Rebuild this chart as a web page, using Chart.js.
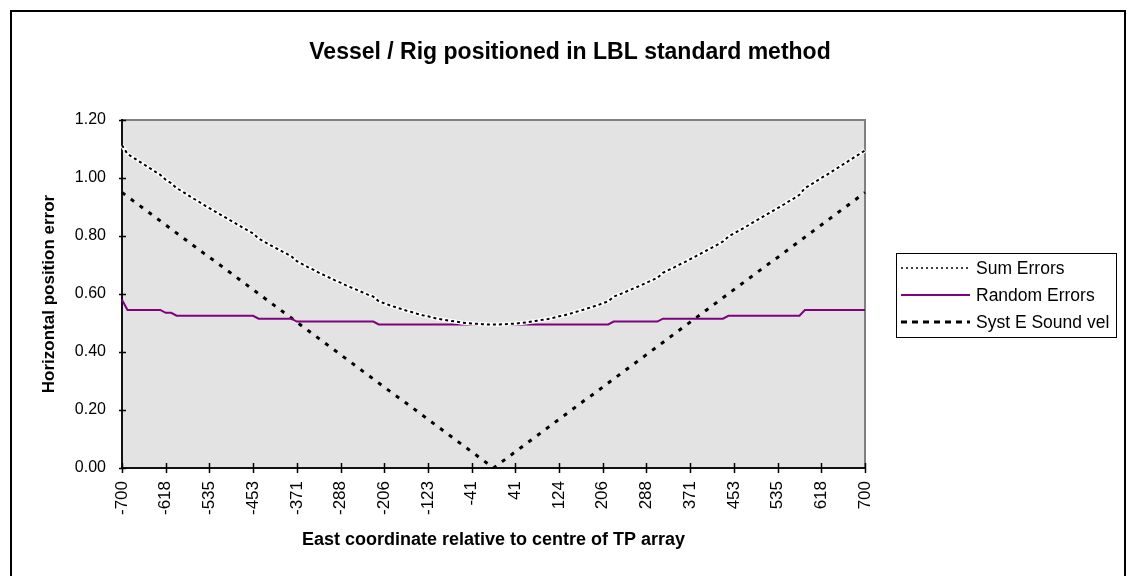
<!DOCTYPE html>
<html>
<head>
<meta charset="utf-8">
<script src="https://cdn.jsdelivr.net/npm/chart.js@4.4.1/dist/chart.umd.min.js"></script>
<style>
  html, body { margin: 0; padding: 0; background: #ffffff; }
  canvas { display: block; }
</style>
</head>
<body>
<canvas id="lbl_chart" width="1129" height="576"></canvas>
<script>
const chartTitle = "Vessel / Rig positioned in LBL standard method";

// east coordinate labels shown under the axis (one every 8 points)
const tickLabels = ["-700", "-618", "-535", "-453", "-371", "-288", "-206", "-123", "-41",
                    "41", "124", "206", "288", "371", "453", "535", "618", "700"];
const pointsPerLabel = 8;

const sumErrors = [
  1.113, 1.083, 1.071, 1.059, 1.047, 1.035, 1.023, 1.011, 0.994, 0.982,
  0.965, 0.954, 0.942, 0.930, 0.919, 0.907, 0.896, 0.885, 0.874, 0.863,
  0.852, 0.841, 0.830, 0.819, 0.809, 0.791, 0.781, 0.770, 0.760, 0.750,
  0.740, 0.730, 0.713, 0.703, 0.693, 0.684, 0.674, 0.665, 0.656, 0.647,
  0.639, 0.630, 0.622, 0.614, 0.606, 0.598, 0.591, 0.575, 0.568, 0.561,
  0.555, 0.549, 0.543, 0.538, 0.532, 0.527, 0.523, 0.518, 0.514, 0.511,
  0.508, 0.505, 0.502, 0.500, 0.498, 0.497, 0.496, 0.495, 0.495, 0.495,
  0.496, 0.497, 0.498, 0.500, 0.502, 0.505, 0.508, 0.511, 0.514, 0.518,
  0.523, 0.527, 0.532, 0.538, 0.543, 0.549, 0.555, 0.561, 0.568, 0.575,
  0.591, 0.598, 0.606, 0.614, 0.622, 0.630, 0.639, 0.647, 0.656, 0.673,
  0.682, 0.691, 0.701, 0.710, 0.720, 0.730, 0.740, 0.750, 0.760, 0.770,
  0.781, 0.798, 0.809, 0.819, 0.830, 0.841, 0.852, 0.863, 0.874, 0.885,
  0.896, 0.907, 0.919, 0.930, 0.942, 0.965, 0.976, 0.988, 1.000, 1.011,
  1.023, 1.035, 1.047, 1.059, 1.071, 1.083, 1.095
];

const randomErrors = [
  0.58, 0.545, 0.545, 0.545, 0.545, 0.545, 0.545, 0.545, 0.535, 0.535,
  0.525, 0.525, 0.525, 0.525, 0.525, 0.525, 0.525, 0.525, 0.525, 0.525,
  0.525, 0.525, 0.525, 0.525, 0.525, 0.515, 0.515, 0.515, 0.515, 0.515,
  0.515, 0.515, 0.505, 0.505, 0.505, 0.505, 0.505, 0.505, 0.505, 0.505,
  0.505, 0.505, 0.505, 0.505, 0.505, 0.505, 0.505, 0.495, 0.495, 0.495,
  0.495, 0.495, 0.495, 0.495, 0.495, 0.495, 0.495, 0.495, 0.495, 0.495,
  0.495, 0.495, 0.495, 0.495, 0.495, 0.495, 0.495, 0.495, 0.495, 0.495,
  0.495, 0.495, 0.495, 0.495, 0.495, 0.495, 0.495, 0.495, 0.495, 0.495,
  0.495, 0.495, 0.495, 0.495, 0.495, 0.495, 0.495, 0.495, 0.495, 0.495,
  0.505, 0.505, 0.505, 0.505, 0.505, 0.505, 0.505, 0.505, 0.505, 0.515,
  0.515, 0.515, 0.515, 0.515, 0.515, 0.515, 0.515, 0.515, 0.515, 0.515,
  0.515, 0.525, 0.525, 0.525, 0.525, 0.525, 0.525, 0.525, 0.525, 0.525,
  0.525, 0.525, 0.525, 0.525, 0.525, 0.545, 0.545, 0.545, 0.545, 0.545,
  0.545, 0.545, 0.545, 0.545, 0.545, 0.545, 0.545
];

const systSoundVel = [
  0.950, 0.936, 0.922, 0.908, 0.894, 0.880, 0.866, 0.852, 0.838, 0.824,
  0.810, 0.796, 0.782, 0.768, 0.754, 0.740, 0.726, 0.713, 0.699, 0.685,
  0.671, 0.657, 0.643, 0.629, 0.615, 0.601, 0.587, 0.573, 0.559, 0.545,
  0.531, 0.517, 0.503, 0.489, 0.475, 0.461, 0.447, 0.433, 0.419, 0.405,
  0.391, 0.377, 0.363, 0.349, 0.335, 0.321, 0.307, 0.293, 0.279, 0.265,
  0.251, 0.238, 0.224, 0.210, 0.196, 0.182, 0.168, 0.154, 0.140, 0.126,
  0.112, 0.098, 0.084, 0.070, 0.056, 0.042, 0.028, 0.014, 0.000, 0.014,
  0.028, 0.042, 0.056, 0.070, 0.084, 0.098, 0.112, 0.126, 0.140, 0.154,
  0.168, 0.182, 0.196, 0.210, 0.224, 0.238, 0.251, 0.265, 0.279, 0.293,
  0.307, 0.321, 0.335, 0.349, 0.363, 0.377, 0.391, 0.405, 0.419, 0.433,
  0.447, 0.461, 0.475, 0.489, 0.503, 0.517, 0.531, 0.545, 0.559, 0.573,
  0.587, 0.601, 0.615, 0.629, 0.643, 0.657, 0.671, 0.685, 0.699, 0.713,
  0.726, 0.740, 0.754, 0.768, 0.782, 0.796, 0.810, 0.824, 0.838, 0.852,
  0.866, 0.880, 0.894, 0.908, 0.922, 0.936, 0.950
];

// category labels: a tick label every 8th point, blanks in between
const labels = sumErrors.map((v, i) =>
    i % pointsPerLabel === 0 ? tickLabels[i / pointsPerLabel] : "");

const FONT = '"Liberation Sans", Arial, sans-serif';
Chart.defaults.font.family = FONT;
Chart.defaults.color = "#000000";

// Excel-like decorations: frame, grey plot area, crossing ticks, title, boxed legend
const excelLook = {
    id: "excelLook",
    beforeDraw(chart) {
        const { ctx, chartArea: a } = chart;
        ctx.save();
        ctx.strokeStyle = "#000000";
        ctx.lineWidth = 2;
        ctx.strokeRect(11, 11, 1114, 620);

        ctx.fillStyle = "#e3e3e3";
        ctx.fillRect(a.left, a.top, a.right - a.left, a.bottom - a.top);
        ctx.strokeStyle = "#808080";
        ctx.lineWidth = 2;
        ctx.beginPath();
        ctx.moveTo(a.left, a.top);
        ctx.lineTo(a.right, a.top);
        ctx.lineTo(a.right, a.bottom);
        ctx.stroke();

        ctx.fillStyle = "#000000";
        ctx.font = "bold 23px " + FONT;
        ctx.textAlign = "center";
        ctx.textBaseline = "middle";
        ctx.fillText(chartTitle, 570, 53);
        ctx.restore();
    },
    beforeDatasetDraw(chart, args) {
        // white band under the dotted "Sum Errors" line
        if (args.index !== 0) return;
        const pts = chart.getDatasetMeta(0).data;
        const ctx = chart.ctx;
        ctx.save();
        ctx.strokeStyle = "#ffffff";
        ctx.lineWidth = 4;
        ctx.lineJoin = "round";
        ctx.beginPath();
        pts.forEach((p, i) => i === 0 ? ctx.moveTo(p.x, p.y) : ctx.lineTo(p.x, p.y));
        ctx.stroke();
        ctx.restore();
    },
    afterDraw(chart) {
        const { ctx, chartArea: a, scales } = chart;
        ctx.save();
        ctx.strokeStyle = "#000000";
        ctx.lineWidth = 1.5;
        ctx.beginPath();
        scales.y.ticks.forEach((t, i) => {
            const y = Math.round(scales.y.getPixelForTick(i)) + 0.5;
            ctx.moveTo(a.left - 3, y);
            ctx.lineTo(a.left + 4, y);
        });
        for (let i = 0; i < labels.length; i += pointsPerLabel) {
            const x = Math.round(scales.x.getPixelForValue(i)) + 0.5;
            ctx.moveTo(x, a.bottom - 5);
            ctx.lineTo(x, a.bottom + 5);
        }
        ctx.stroke();

        // legend box
        const lx = 896, ly = 253, lw = 220, lh = 84;
        ctx.fillStyle = "#ffffff";
        ctx.fillRect(lx, ly, lw, lh);
        ctx.strokeStyle = "#000000";
        ctx.lineWidth = 1;
        ctx.strokeRect(lx + 0.5, ly + 0.5, lw, lh);
        ctx.font = "17.5px " + FONT;
        ctx.textAlign = "left";
        ctx.textBaseline = "middle";
        chart.data.datasets.forEach((ds, i) => {
            const y = ly + 15 + i * 27;
            ctx.strokeStyle = ds.borderColor;
            ctx.lineWidth = ds.legendWidth;
            ctx.setLineDash(ds.legendDash);
            ctx.beginPath();
            ctx.moveTo(lx + 5, y);
            ctx.lineTo(lx + 74, y);
            ctx.stroke();
            ctx.setLineDash([]);
            ctx.fillStyle = "#000000";
            ctx.fillText(ds.label, lx + 80, y + 1);
        });
        ctx.restore();
    }
};

new Chart(document.getElementById("lbl_chart"), {
    type: "line",
    data: {
        labels: labels,
        datasets: [
            {
                label: "Sum Errors",
                data: sumErrors,
                borderColor: "#000000",
                borderWidth: 2,
                borderDash: [3, 3],
                legendWidth: 1.5,
                legendDash: [2, 3],
                pointRadius: 0,
                tension: 0
            },
            {
                label: "Random Errors",
                data: randomErrors,
                borderColor: "#800080",
                borderWidth: 2,
                borderDash: [],
                legendWidth: 2,
                legendDash: [],
                pointRadius: 0,
                tension: 0
            },
            {
                label: "Syst E Sound vel",
                data: systSoundVel,
                borderColor: "#000000",
                borderWidth: 3,
                borderDash: [4, 7],
                legendWidth: 3,
                legendDash: [6, 5],
                pointRadius: 0,
                tension: 0
            }
        ]
    },
    options: {
        responsive: false,
        animation: false,
        layout: { padding: { left: 10, top: 120, right: 264, bottom: 0 } },
        plugins: {
            legend: { display: false },
            title: { display: false },
            tooltip: { enabled: false }
        },
        scales: {
            x: {
                type: "category",
                offset: false,
                grid: { display: false, drawTicks: false },
                border: { display: true, color: "#111111", width: 2 },
                ticks: {
                    autoSkip: false,
                    maxRotation: 90,
                    minRotation: 90,
                    padding: 13,
                    font: { size: 17 },
                    color: "#000000"
                },
                title: {
                    display: true,
                    text: "East coordinate relative to centre of TP array",
                    font: { size: 18, weight: "bold" },
                    padding: { top: 0, bottom: 25 },
                    color: "#000000"
                },
                afterFit: (scale) => { scale.height = 108; }
            },
            y: {
                min: 0,
                max: 1.2,
                grid: { display: false, drawTicks: false },
                border: { display: true, color: "#111111", width: 2 },
                ticks: {
                    stepSize: 0.2,
                    padding: 16,
                    font: { size: 16 },
                    color: "#000000",
                    callback: (v) => Number(v).toFixed(2)
                },
                title: {
                    display: true,
                    text: "Horizontal position error",
                    font: { size: 17, weight: "bold" },
                    padding: { top: 29, bottom: 0 },
                    color: "#000000"
                },
                afterFit: (scale) => { scale.width = 112; }
            }
        }
    },
    plugins: [excelLook]
});
</script>
</body>
</html>
